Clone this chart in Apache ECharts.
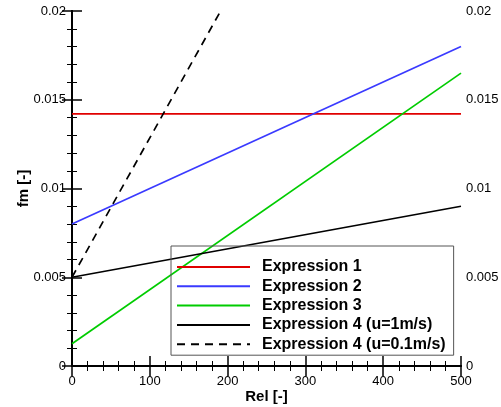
<!DOCTYPE html>
<html>
<head>
<meta charset="utf-8">
<script src="https://cdn.jsdelivr.net/npm/echarts@6/dist/echarts.min.js"></script>
<style>html,body{margin:0;padding:0;background:#fff}#c{width:501px;height:407px}</style>
</head>
<body>
<div id="c"></div>
<script>
const seriesNames = ['Expression 1','Expression 2','Expression 3','Expression 4 (u=1m/s)','Expression 4 (u=0.1m/s)'];
const expr1 = [[0, 0.0142], [500, 0.0142]];
const expr2 = [[0, 0.008], [500, 0.018]];
const expr3 = [[0, 0.00125], [500, 0.0165]];
const expr4a = [[0, 0.005], [500, 0.009]];
const expr4b = [[0, 0.005], [191, 0.02]];
const xTicks = [0, 100, 200, 300, 400, 500];
const yTicks = [0, 0.005, 0.01, 0.015, 0.02];

const font = 'Liberation Sans, Arial, sans-serif';
const chart = echarts.init(document.getElementById('c'));
const axLine = {show: true, lineStyle: {color: '#000', width: 2}};
const tick = {show: true, inside: true, length: 10, lineStyle: {color: '#000', width: 1.5}};
const minor = {show: true, splitNumber: 5, length: 5, lineStyle: {color: '#000', width: 1}};
const lbl = {color: '#000', fontFamily: font, fontSize: 13};
function yFmt(v) {
  const t = yTicks.find(y => Math.abs(y - v) < 1e-9);
  return t === undefined ? '' : String(+t.toFixed(3));
}
function mk(name, data, color, type) {
  return {name: name, type: 'line', data: data, symbol: 'none', clip: true,
    lineStyle: {color: color, width: 1.7, type: type || 'solid'},
    itemStyle: {color: color}, animation: false, z: 2};
}
chart.setOption({
  animation: false,
  grid: {left: 72, right: 40, top: 11, bottom: 41, containLabel: false, outerBoundsMode: 'none'},
  legend: {
    orient: 'vertical', left: 171, top: 246,
    data: seriesNames,
    itemWidth: 73, itemHeight: 14, itemGap: 3.3,
    padding: [13, 8, 3, 5],
    borderColor: '#555', borderWidth: 1,
    itemStyle: {opacity: 0},
    textStyle: {color: '#000', fontFamily: font, fontSize: 16, fontWeight: 'bold', padding: [0, 0, 0, 7]}
  },
  xAxis: [{
    type: 'value', min: 0, max: 500, interval: 100, position: 'bottom',
    name: 'Rel [-]', nameLocation: 'middle', nameGap: 23, nameMoveOverlap: false,
    nameTextStyle: {color: '#000', fontFamily: font, fontSize: 15, fontWeight: 'bold'},
    axisLine: axLine, axisTick: tick, minorTick: minor, splitLine: {show: false},
    axisLabel: Object.assign({margin: 9, formatter: v => xTicks.includes(v) ? String(v) : ''}, lbl)
  }, {
    type: 'value', min: 0, max: 500, interval: 100, position: 'top',
    axisLine: axLine, axisTick: tick, minorTick: minor, splitLine: {show: false},
    axisLabel: {show: false}
  }],
  yAxis: [{
    type: 'value', min: 0, max: 0.02, interval: 0.005, position: 'left',
    name: 'fm [-]', nameLocation: 'middle', nameGap: 41, nameRotate: 90, nameMoveOverlap: false,
    nameTextStyle: {color: '#000', fontFamily: font, fontSize: 15, fontWeight: 'bold'},
    axisLine: axLine, axisTick: tick, minorTick: minor, splitLine: {show: false},
    axisLabel: Object.assign({margin: 6, formatter: yFmt}, lbl)
  }, {
    type: 'value', min: 0, max: 0.02, interval: 0.005, position: 'right',
    axisLine: axLine, axisTick: tick, minorTick: minor, splitLine: {show: false},
    axisLabel: Object.assign({margin: 5, formatter: yFmt}, lbl)
  }],
  series: [
    mk(seriesNames[0], expr1, '#e00000'),
    mk(seriesNames[1], expr2, '#3a3aff'),
    mk(seriesNames[2], expr3, '#00cc00'),
    mk(seriesNames[3], expr4a, '#000000'),
    mk(seriesNames[4], expr4b, '#000000', [8, 6])
  ]
});
</script>
</body>
</html>
